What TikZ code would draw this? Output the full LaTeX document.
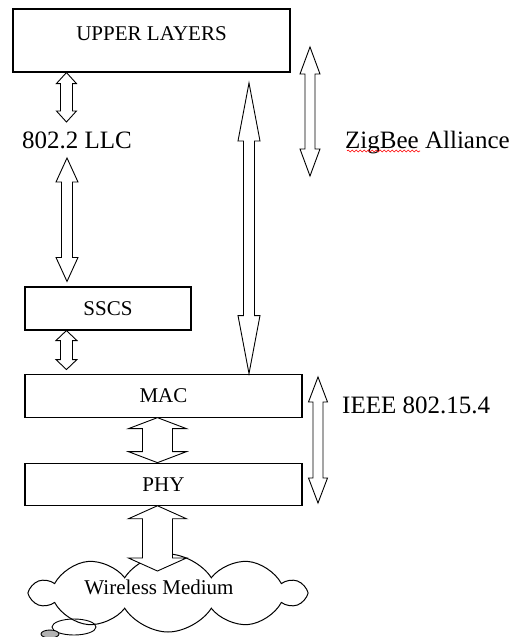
\documentclass[tikz,border=0pt]{standalone}
\usepackage{fontspec}
\setmainfont{Liberation Serif}
\usetikzlibrary{positioning, calc, shapes.symbols, decorations.pathmorphing}

\tikzset{
  layer/.style={
    draw, line width=1.1pt, inner sep=0pt,
    minimum height=43pt, font=\fontsize{21}{24}\selectfont
  },
  sidelabel/.style={
    inner sep=0pt, anchor=base west, font=\fontsize{25}{30}\selectfont
  },
  hollow/.style={draw, line width=0.9pt, fill=white, line join=miter},
  spellmark/.style={
    draw=red, line width=0.6pt, decorate,
    decoration={snake, segment length=4pt, amplitude=1pt}
  }
}
% hollow double arrow: top point, bottom point, half shaft, half head, head length
\newcommand{\hollowarr}[5]{%
  \draw[hollow] let \p1=(#1), \p2=(#2) in
    (\x1,\y1) -- (\x1+#4pt,\y1-#5pt) -- (\x1+#3pt,\y1-#5pt)
    -- (\x1+#3pt,\y2+#5pt) -- (\x1+#4pt,\y2+#5pt) -- (\x1,\y2)
    -- (\x1-#4pt,\y2+#5pt) -- (\x1-#3pt,\y2+#5pt)
    -- (\x1-#3pt,\y1-#5pt) -- (\x1-#4pt,\y1-#5pt) -- cycle;
}

\begin{document}
\begin{tikzpicture}[x=1pt, y=-1pt]
  \useasboundingbox (0,0) rectangle (523,637);

  %% layers
  \node[layer, minimum width=277pt, minimum height=63pt,
        text height=14pt, text depth=15pt] (upper) at (151.5,40.5) {UPPER LAYERS};
  \node[layer, minimum width=166pt] (sscs) at (108,308.5) {SSCS};
  \node[layer, minimum width=277pt, below=43pt of sscs.south west,
        anchor=north west] (mac) {MAC};
  \node[layer, minimum width=277pt, minimum height=42pt,
        below=45pt of mac] (phy) {PHY};

  %% medium
  \node[draw, cloud, cloud puffs=10, cloud puff arc=115, cloud ignores aspect,
        line width=1pt, minimum width=272pt, minimum height=78pt, inner sep=0pt]
        (medium) at (168,593) {};
  \node[font=\fontsize{21}{24}\selectfont, inner sep=0pt] (mediumtext)
        at (159,587) {Wireless Medium};
  \draw[line width=0.9pt] (74,627) ellipse [x radius=22, y radius=8];
  \draw[line width=0.9pt, fill=gray!60] (50,634) ellipse [x radius=9, y radius=4];

  %% side labels
  \node[sidelabel] (llc) at (22,148) {802.2 LLC};
  \node[sidelabel] (zigbee) at (345,148) {ZigBee Alliance};
  \node[sidelabel] (ieee) at (342,413) {IEEE 802.15.4};
  \draw[spellmark] ($(zigbee.base west)+(2,3)$) -- ++(73,0);

  %% free ends
  \coordinate (llcup)   at (67,122);
  \coordinate (llcdown) at (67,158);
  \coordinate (mactop)  at (249,83);
  \coordinate (zbtop)   at (310,47);
  \coordinate (zbbot)   at (310,176);
  \coordinate (ieeetop) at (318,377);
  \coordinate (ieeebot) at (318,503);
  \coordinate (airtop)  at (158,571);

  %% arrows
  \hollowarr{$(upper.south west)+(54,0)$}{llcup}{6}{10}{11}
  \hollowarr{llcdown}{$(sscs.north west)+(42,-5)$}{5.5}{11}{24}
  \hollowarr{$(sscs.south west)+(42,0)$}{$(mac.north west)+(42,-4)$}{6}{10.5}{10}
  \hollowarr{mactop}{$(mac.north west)+(224,0)$}{5.5}{11}{58}
  \hollowarr{zbtop}{zbbot}{5}{10}{27}
  \hollowarr{ieeetop}{ieeebot}{5}{9.5}{25}
  \hollowarr{$(mac.south west)+(133,0)$}{$(phy.north west)+(133,0)$}{15}{29}{11}
  \hollowarr{$(phy.south west)+(133,0)$}{airtop}{15}{29}{13}
\end{tikzpicture}
\end{document}
